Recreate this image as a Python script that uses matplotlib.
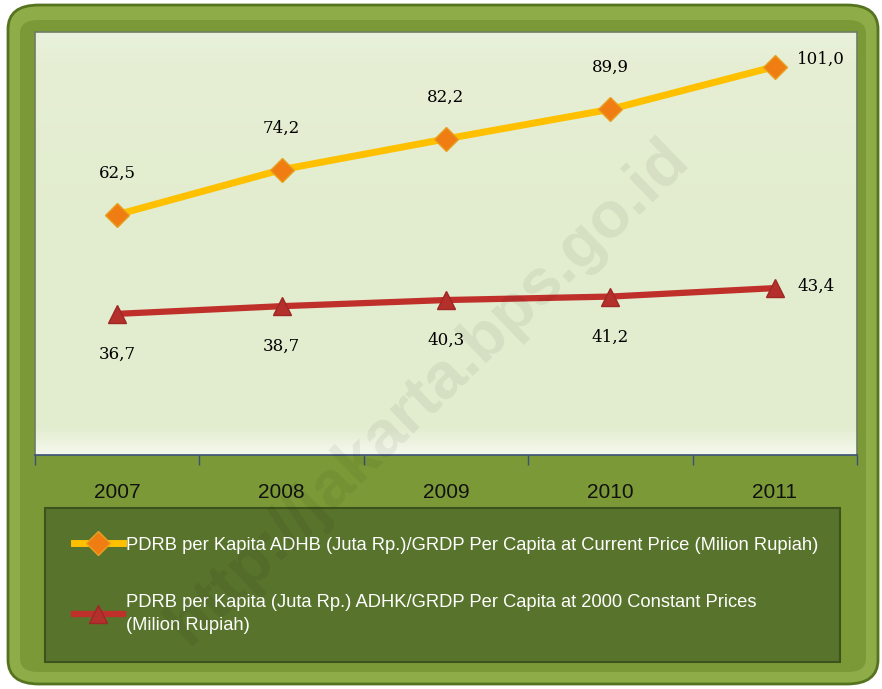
import matplotlib
matplotlib.use("Agg")
import matplotlib.pyplot as plt
import numpy as np
from matplotlib.patches import FancyBboxPatch, Rectangle
from matplotlib.colors import LinearSegmentedColormap

years = ["2007", "2008", "2009", "2010", "2011"]
adhb = [62.5, 74.2, 82.2, 89.9, 101.0]
adhk = [36.7, 38.7, 40.3, 41.2, 43.4]
label_adhb = "PDRB per Kapita ADHB (Juta Rp.)/GRDP Per Capita at Current Price (Milion Rupiah)"
label_adhk = "PDRB per Kapita (Juta Rp.) ADHK/GRDP Per Capita at 2000 Constant Prices\n(Milion Rupiah)"

sans = "Liberation Sans"
serif = "DejaVu Serif"

W, H = 882, 689
fig = plt.figure(figsize=(W / 100, H / 100), dpi=100)
fig.patch.set_facecolor("white")

def fx(px):
    return px / W

def fy(py):
    return 1 - py / H

# outer green frame
fig.patches.append(FancyBboxPatch((fx(8), fy(684)), fx(870), 679 / H,
                                  boxstyle="round,pad=0,rounding_size=0.035",
                                  transform=fig.transFigure, facecolor="#8eac48",
                                  edgecolor="#56731f", lw=2, zorder=-2))
fig.patches.append(FancyBboxPatch((fx(20), fy(672)), fx(846), 652 / H,
                                  boxstyle="round,pad=0,rounding_size=0.02",
                                  transform=fig.transFigure, facecolor="#7b9a37",
                                  edgecolor="none", zorder=-2))
# legend box
fig.patches.append(Rectangle((fx(45), fy(662)), fx(795), 154 / H,
                             transform=fig.transFigure, facecolor="#58732c",
                             edgecolor="#3e531c", lw=1.5, zorder=-1))

ax = fig.add_axes([fx(35), fy(455), fx(822), (455 - 32) / H])
ax.set_zorder(2)
ax.set_facecolor("#e3edd0")

# background gradient of plot area
cmap = LinearSegmentedColormap.from_list(
    "bg", [(0, "#f4f8ec"), (0.06, "#e3edd0"), (0.5, "#e2ecce"), (0.93, "#e6efd4"), (1, "#e9f1dc")])
grad = np.linspace(1, 0, 200).reshape(-1, 1)
ax.imshow(grad, cmap=cmap, aspect="auto", extent=(0, 1, 0, 1),
          transform=ax.transAxes, zorder=0, vmin=0, vmax=1)

x = list(range(len(years)))
ax.plot(x, adhb, color="#ffc000", lw=5, marker="D", ms=12,
        markerfacecolor="#f07d12", markeredgecolor="#e8a020", mew=1, zorder=3,
        label=label_adhb)
ax.plot(x, adhk, color="#c0302b", lw=4.5, marker="^", ms=13,
        markerfacecolor="#b3302c", markeredgecolor="#a02824", mew=1, zorder=3,
        label=label_adhk)

def fmt(v):
    return f"{v:.1f}".replace(".", ",")

n = len(years)
for i, v in enumerate(adhb):
    if i == n - 1:
        ax.annotate(fmt(v), (i, v), xytext=(16, 5), textcoords="offset points",
                    ha="left", va="center", fontsize=12, family=serif)
    else:
        ax.annotate(fmt(v), (i, v), xytext=(0, 30), textcoords="offset points",
                    ha="center", va="center", fontsize=12, family=serif)
for i, v in enumerate(adhk):
    if i == n - 1:
        ax.annotate(fmt(v), (i, v), xytext=(16, 1), textcoords="offset points",
                    ha="left", va="center", fontsize=12, family=serif)
    else:
        ax.annotate(fmt(v), (i, v), xytext=(0, -29), textcoords="offset points",
                    ha="center", va="center", fontsize=12, family=serif)

ax.set_xlim(-0.5, n - 0.5)
ax.set_ylim(0, 110)
ax.set_yticks([])
ax.set_xticks(x)
ax.set_xticklabels(years, fontsize=15, family=sans, color="#111111")
ax.tick_params(axis="x", which="major", length=0, pad=20)
ax.set_xticks([i - 0.5 for i in range(n + 1)], minor=True)
ax.tick_params(axis="x", which="minor", length=7, color="#3d5078", width=1)
for s in ["left", "right", "top"]:
    ax.spines[s].set_color("#6f7d62")
    ax.spines[s].set_linewidth(1.2)
ax.spines["bottom"].set_color("#3d5078")
ax.spines["bottom"].set_linewidth(1.2)

leg = fig.legend(loc="upper left", bbox_to_anchor=(fx(57), fy(520)),
                 frameon=False, labelspacing=2.2,
                 handlelength=2.7, handletextpad=0.15,
                 prop={"family": sans, "size": 13.2})
leg.set_zorder(5)
for t in leg.get_texts():
    t.set_color("white")
    t.set_linespacing(1.5)

fig.text(fx(428), fy(392), "http://jakarta.bps.go.id", rotation=44,
         ha="center", va="center", fontsize=47, fontweight="bold",
         family=sans, color="#000000", alpha=0.06, zorder=10)

fig.savefig("out.png", dpi=100)
